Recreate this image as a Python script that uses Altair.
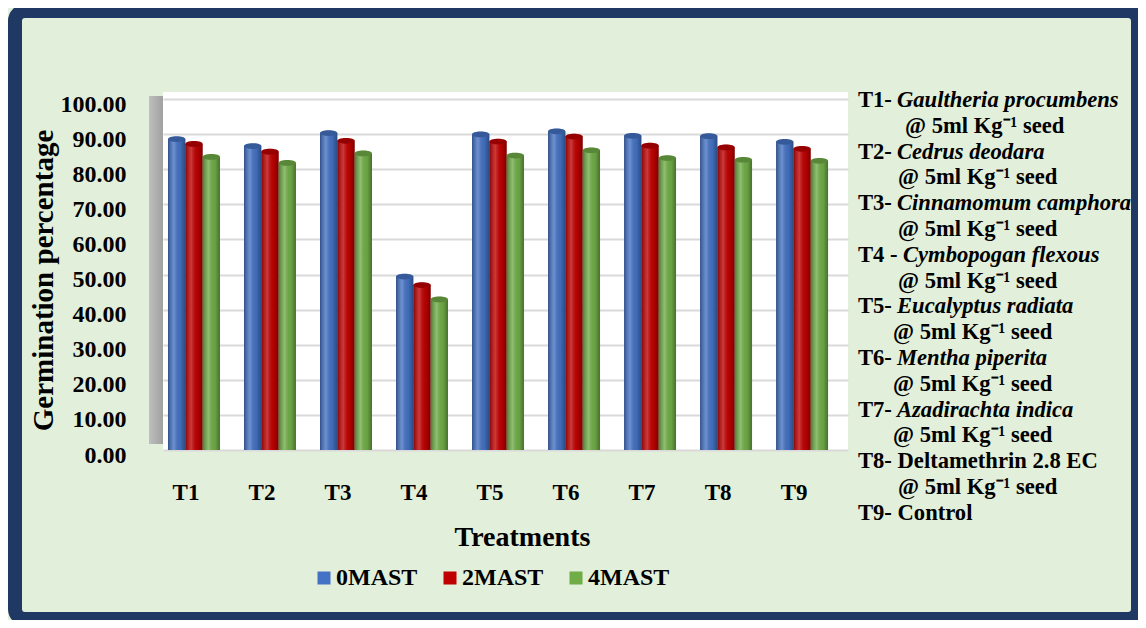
import altair as alt
import pandas as pd

treatments = ["T1", "T2", "T3", "T4", "T5", "T6", "T7", "T8", "T9"]
series = ["0MAST", "2MAST", "4MAST"]
mast0 = [88.6, 86.6, 90.3, 49.4, 89.9, 90.8, 89.5, 89.4, 87.8]
mast2 = [87.2, 85.0, 88.1, 47.0, 87.9, 89.3, 86.7, 86.2, 85.8]
mast4 = [83.5, 81.8, 84.5, 42.9, 83.9, 85.4, 83.2, 82.7, 82.4]
colors = ["#4472c4", "#c00000", "#70ad47"]
y_ticks = [0, 10, 20, 30, 40, 50, 60, 70, 80, 90, 100]

dose = "@ 5ml Kg\u207b\u00b9 seed"
prefixes = ["T1-", "T2-", "T3-", "T4 -", "T5-", "T6-", "T7-",
            "T8- Deltamethrin 2.8 EC", "T9- Control"]
species = ["Gaultheria procumbens", "Cedrus deodara", "Cinnamomum camphora",
           "Cymbopogan flexous", "Eucalyptus radiata", "Mentha piperita",
           "Azadirachta indica", "", ""]
has_dose = [True, True, True, True, True, True, True, True, False]

FONT = "Liberation Serif"

rows = []
for t, a, b, c in zip(treatments, mast0, mast2, mast4):
    for s, v in zip(series, (a, b, c)):
        rows.append({"Treatment": t, "Series": s, "Value": v})
df = pd.DataFrame(rows)
one = pd.DataFrame({"k": [0]})

xenc = alt.X(
    "Treatment:N", sort=treatments,
    scale=alt.Scale(paddingInner=0.316, paddingOuter=0.164, align=0.2),
    axis=alt.Axis(
        title="Treatments", labelAngle=0, labelFont=FONT, labelFontSize=23,
        labelFontWeight="bold", labelColor="black", labelPadding=42,
        labelBaseline="middle", labelOffset=-8, ticks=False, domain=False,
        titleFont=FONT, titleFontSize=28, titleFontWeight="bold", titleColor="black",
        titleX=359, titleY=87, titleBaseline="middle", titleAlign="center",
    ),
)
yenc = alt.Y(
    "Value:Q", scale=alt.Scale(domain=[0, 102], nice=False),
    axis=alt.Axis(
        values=y_ticks, tickCount=11, format=".2f", title="Germination percentage",
        labelFont=FONT, labelFontSize=24, labelFontWeight="bold", labelColor="black",
        labelPadding=37, labelOffset=5, labelOverlap=False, labelFlush=False,
        ticks=False, domain=False,
        grid=True, gridColor="#d9d9d9", gridWidth=2,
        titleFont=FONT, titleFontSize=29, titleFontWeight="bold", titleColor="black",
        titleX=-120, titleY=188, titleBaseline="middle", titleAlign="center",
    ),
)
xoff = alt.XOffset("Series:N", sort=series, scale=alt.Scale(paddingInner=0, paddingOuter=0))
color = alt.Color(
    "Series:N", sort=series, scale=alt.Scale(domain=series, range=colors),
    legend=alt.Legend(
        title=None, orient="none", direction="horizontal", legendX=149, legendY=474,
        symbolType="square", symbolSize=169, symbolStrokeWidth=0,
        labelFont=FONT, labelFontSize=24, labelFontWeight="bold", labelColor="black",
        labelOffset=0, columnPadding=20, padding=0,
    ),
)

bars = alt.Chart(df).mark_bar().encode(x=xenc, xOffset=xoff, y=yenc, color=color)

shade = alt.Chart(df).mark_bar(
    fill=alt.Gradient(
        gradient="linear", x1=0, x2=1, y1=0, y2=0,
        stops=[
            alt.GradientStop(color="rgba(0,0,0,0.30)", offset=0),
            alt.GradientStop(color="rgba(255,255,255,0.22)", offset=0.35),
            alt.GradientStop(color="rgba(0,0,0,0.05)", offset=0.7),
            alt.GradientStop(color="rgba(0,0,0,0.35)", offset=1),
        ],
    )
).encode(x=xenc, xOffset=xoff, y=yenc)

ELLIPSE = "M -1 0 A 1 0.33 0 1 0 1 0 A 1 0.33 0 1 0 -1 0 Z"
caps = alt.Chart(df).mark_point(
    shape=ELLIPSE, size=300, filled=True, opacity=1
).encode(x=xenc, xOffset=xoff, y=yenc, color=color)
capshade = alt.Chart(df).mark_point(
    shape=ELLIPSE, size=300, filled=True, fill="black", opacity=0.22
).encode(x=xenc, xOffset=xoff, y=yenc)

wall = alt.Chart(one).mark_rect(
    fill=alt.Gradient(
        gradient="linear", x1=0, x2=1, y1=0, y2=0,
        stops=[alt.GradientStop(color="#bfbfbf", offset=0),
               alt.GradientStop(color="#a0a0a0", offset=1)],
    )
).encode(x=alt.value(-14), x2=alt.value(0), y=alt.value(4), y2=alt.value(352))
border = alt.Chart(one).mark_rect(
    fillOpacity=0, stroke="#1f3864", strokeWidth=14, cornerRadius=10
).encode(x=alt.value(-148), x2=alt.value(975), y=alt.value(-81), y2=alt.value(527))


def line(text, x, i, italic=False):
    return alt.Chart(one).mark_text(
        text=text, align="left", baseline="middle", font=FONT, fontSize=22.6,
        fontWeight="bold", fontStyle="italic" if italic else "normal", color="black",
    ).encode(x=alt.value(x), y=alt.value(8 + i * 25.8))


dose_x = [742, 735, 735, 735, 730, 730, 730, 735]
texts = []
li = 0
for k, (p, sp, hd) in enumerate(zip(prefixes, species, has_dose)):
    texts.append(line(p, 695, li))
    if sp:
        texts.append(line(sp, 740 if p.startswith("T4") else 734, li, True))
    li += 1
    if hd:
        texts.append(line(dose, dose_x[k], li))
        li += 1

chart = alt.layer(wall, bars, shade, caps, capshade, *texts, border).properties(
    width=685, height=358,
    padding={"left": 155, "top": 84, "right": 290, "bottom": 170},
    autosize=alt.AutoSizeParams(type="none"),
    background="#e2efda",
).configure_view(fill="white", strokeWidth=0)

chart.save("out.html", embed_options={"renderer": "svg", "actions": False})
